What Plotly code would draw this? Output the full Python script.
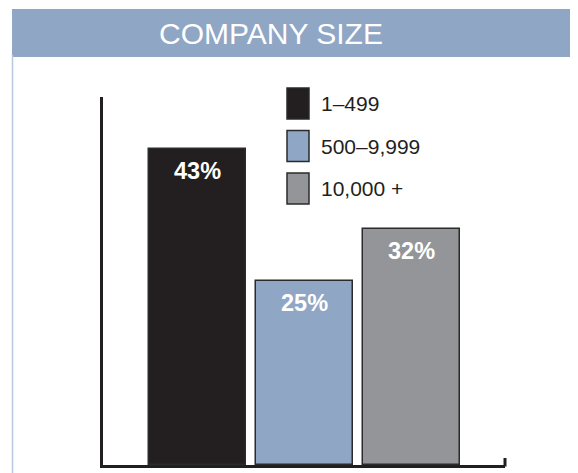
import plotly.graph_objects as go

categories = ["1–499", "500–9,999", "10,000 +"]
values = [43, 25, 32]
labels = ["43%", "25%", "32%"]
colors = ["#231f20", "#8fa6c4", "#939598"]
title_text = "COMPANY SIZE"

OFF = 8  # page body margin
W, H = 578 - OFF, 473 - OFF
L, R, T, B = 103 - OFF, 505 - OFF, 97 - OFF, 465 - OFF  # plot area in figure px

def px_x(p):
    # p is screen px
    return (p - OFF - L) / (R - L)

def px_y(p):
    return (B - (p - OFF)) / (B - T)

fig = go.Figure()
fig.add_trace(go.Bar(
    x=categories, y=values,
    marker=dict(color=colors, line=dict(color="#2b2b2b", width=1.5)),
    width=0.907, showlegend=False, hoverinfo="skip",
))

annotations = []
for c, v, t in zip(categories, values, labels):
    annotations.append(dict(
        x=c, y=v, xref="x", yref="y", text="<b>" + t + "</b>", showarrow=False,
        yshift=-22, font=dict(family="Liberation Sans, Arial", size=23.5, color="white"),
        xanchor="center", yanchor="middle",
    ))

shapes = []
# header band
shapes.append(dict(type="rect", xref="paper", yref="paper",
                   x0=px_x(12), x1=px_x(590), y0=px_y(57), y1=px_y(9),
                   fillcolor="#8fa6c4", line=dict(width=0), layer="below"))
# left border line
shapes.append(dict(type="line", xref="paper", yref="paper",
                   x0=px_x(12.5), x1=px_x(12.5), y0=px_y(55), y1=px_y(480),
                   line=dict(color="#b9c9de", width=1.5)))
# right end tick on x axis
shapes.append(dict(type="line", xref="paper", yref="paper",
                   x0=1, x1=1, y0=px_y(466.5), y1=px_y(458),
                   line=dict(color="#231f20", width=3)))

annotations.append(dict(
    x=px_x(271), y=px_y(34), xref="paper", yref="paper", text=title_text,
    showarrow=False, xanchor="center", yanchor="middle",
    font=dict(family="Liberation Sans, Arial", size=30, color="white"),
))

# legend
for i, (c, col) in enumerate(zip(categories, colors)):
    top = 88 + i * 42.5
    shapes.append(dict(type="rect", xref="paper", yref="paper",
                       x0=px_x(287), x1=px_x(309), y0=px_y(top + 31), y1=px_y(top),
                       fillcolor=col, line=dict(color="#2b2b2b", width=1.5)))
    annotations.append(dict(
        x=px_x(319), y=px_y(top + 15.5), xref="paper", yref="paper", text=c,
        showarrow=False, xanchor="left", yanchor="middle",
        font=dict(family="Liberation Sans, Arial", size=21, color="#231f20"),
    ))

fig.update_layout(
    width=W, height=H, autosize=False,
    margin=dict(l=L, r=W - R, t=T, b=H - B, pad=0),
    paper_bgcolor="white", plot_bgcolor="white",
    xaxis=dict(range=[-0.883, 2.874], showticklabels=False, ticks="",
               showgrid=False, zeroline=False, showline=True,
               linecolor="#231f20", linewidth=3),
    yaxis=dict(range=[0, 50], showticklabels=False, ticks="",
               showgrid=False, zeroline=False, showline=True,
               linecolor="#231f20", linewidth=3),
    bargap=0, barmode="overlay",
    shapes=shapes, annotations=annotations,
)

fig.write_html("out.html")
